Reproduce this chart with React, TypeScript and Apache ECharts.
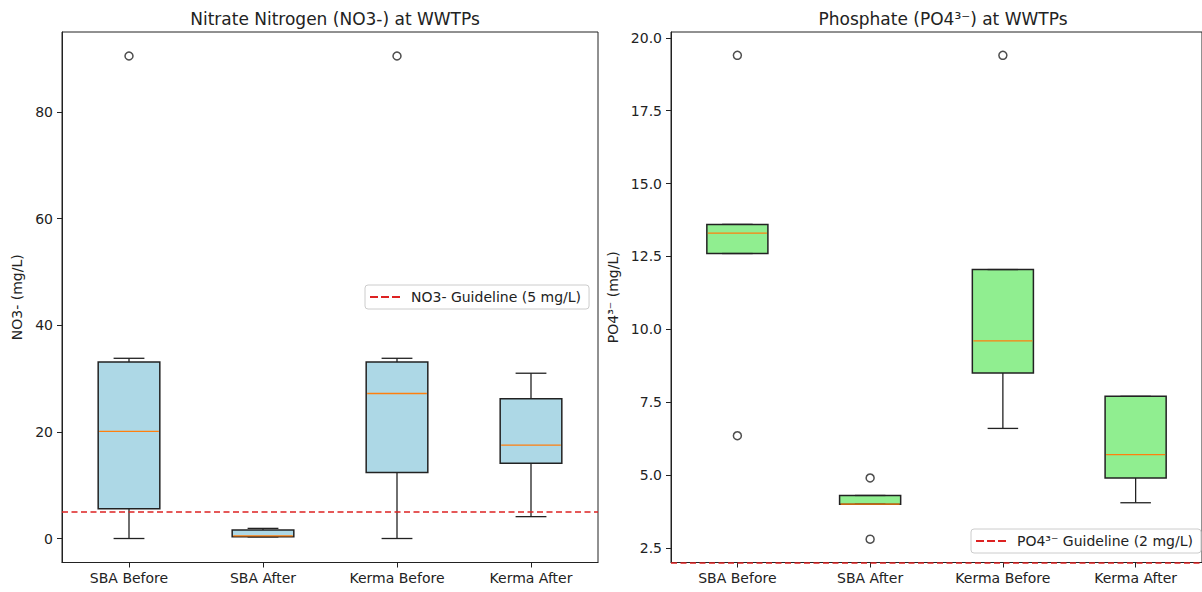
import React, { useEffect, useRef } from "react";
import * as echarts from "echarts";

const categories = ["SBA Before", "SBA After", "Kerma Before", "Kerma After"];

// [whiskerLow, Q1, median, Q3, whiskerHigh]
const no3Stats = [
  [0, 5.6, 20.1, 33.1, 33.8],
  [0.3, 0.35, 0.5, 1.6, 1.9],
  [0, 12.4, 27.2, 33.1, 33.8],
  [4.1, 14.1, 17.5, 26.2, 31.0],
];
const no3Outliers = [
  [0, 90.5],
  [2, 90.5],
];
const no3Guideline = 5;
const no3Ticks = [0, 20, 40, 60, 80];

const po4Stats = [
  [12.6, 12.6, 13.3, 13.6, 13.6],
  [4.0, 4.0, 4.0, 4.3, 4.3],
  [6.6, 8.5, 9.6, 12.05, 12.05],
  [4.05, 4.9, 5.7, 7.7, 7.7],
];
const po4Outliers = [
  [0, 19.4],
  [0, 6.35],
  [1, 4.9],
  [1, 2.8],
  [2, 19.4],
];
const po4Guideline = 2;
const po4Ticks = [2.5, 5.0, 7.5, 10.0, 12.5, 15.0, 17.5, 20.0];

const FONT = "DejaVu Sans";
const TEXT = "#222";
const RED = "#dd2222";
const DASH_ICON = "path://M0,0h8v2h-8zM11,0h8v2h-8zM22,0h8v2h-8z";

function boxRender(fill: string) {
  return (params: any, api: any) => {
    const x = api.value(0);
    const pWl = api.coord([x, api.value(1)]);
    const pQ1 = api.coord([x, api.value(2)]);
    const pMed = api.coord([x, api.value(3)]);
    const pQ3 = api.coord([x, api.value(4)]);
    const pWh = api.coord([x, api.value(5)]);
    const band = api.size([1, 0])[0];
    const bw = band * 0.46;
    const cw = bw / 2;
    const cx = pQ1[0];
    const lineStyle = { stroke: "#222", lineWidth: 1.3 };
    return {
      type: "group",
      children: [
        { type: "line", shape: { x1: cx, y1: pQ3[1], x2: cx, y2: pWh[1] }, style: lineStyle },
        { type: "line", shape: { x1: cx, y1: pQ1[1], x2: cx, y2: pWl[1] }, style: lineStyle },
        {
          type: "rect",
          shape: { x: cx - bw / 2, y: pQ3[1], width: bw, height: pQ1[1] - pQ3[1] },
          style: { fill, stroke: "#222", lineWidth: 1.5 },
        },
        { type: "line", shape: { x1: cx - cw / 2, y1: pWh[1], x2: cx + cw / 2, y2: pWh[1] }, style: lineStyle },
        { type: "line", shape: { x1: cx - cw / 2, y1: pWl[1], x2: cx + cw / 2, y2: pWl[1] }, style: lineStyle },
        {
          type: "line",
          shape: { x1: cx - bw / 2 + 1, y1: pMed[1], x2: cx + bw / 2 - 1, y2: pMed[1] },
          style: { stroke: "#ff7f0e", lineWidth: 1.3 },
        },
      ],
    };
  };
}

export default function App() {
  const ref = useRef<HTMLDivElement>(null);
  useEffect(() => {
    if (!ref.current) return;
    const chart = echarts.init(ref.current, null, { renderer: "svg" });
    const no3Name = "NO3- Guideline (5 mg/L)";
    const po4Name = "PO4³⁻ Guideline (2 mg/L)";
    const axisCommon = {
      axisLine: { show: true, onZero: false, lineStyle: { color: "#222", width: 1 } },
      axisTick: { show: true, length: 5, lineStyle: { color: "#222" } },
      splitLine: { show: false },
    };
    const yLabel = { color: TEXT, fontSize: 14, fontFamily: FONT, margin: 9 };
    const xLabel = { color: TEXT, fontSize: 14, fontFamily: FONT, margin: 8 };
    const titleStyle = { fontFamily: FONT, fontSize: 17, fontWeight: "normal", color: TEXT };
    const legendCommon = {
      itemWidth: 30,
      itemHeight: 12,
      padding: [5, 8, 5, 5],
      borderColor: "#ccc",
      borderWidth: 1,
      borderRadius: 3,
      backgroundColor: "rgba(255,255,255,0.85)",
      textStyle: { color: TEXT, fontSize: 14, fontFamily: FONT, padding: [0, 0, 0, 6] },
    };
    const option: any = {
      animation: false,
      backgroundColor: "#fff",
      title: [
        { text: "Nitrate Nitrogen (NO3-) at WWTPs", left: 330, top: 5, textAlign: "center", textStyle: titleStyle },
        { text: "Phosphate (PO4³⁻) at WWTPs", left: 938, top: 5, textAlign: "center", textStyle: titleStyle },
      ],
      legend: [
        { ...legendCommon, data: [{ name: no3Name, icon: DASH_ICON }], left: 365, top: 285 },
        { ...legendCommon, data: [{ name: po4Name, icon: DASH_ICON }], left: 971, top: 529 },
      ],
      grid: [
        { left: 62, top: 32, width: 536, height: 530.5, show: true, borderColor: "#222", borderWidth: 1, backgroundColor: "transparent" },
        { left: 671, top: 32, width: 536, height: 530.5, show: true, borderColor: "#222", borderWidth: 1, backgroundColor: "transparent" },
      ],
      xAxis: [0, 1].map((g) => ({
        type: "category",
        gridIndex: g,
        data: categories,
        ...axisCommon,
        axisTick: { ...axisCommon.axisTick, alignWithLabel: true },
        axisLabel: xLabel,
      })),
      yAxis: [
        {
          type: "value",
          gridIndex: 0,
          min: -4.5,
          max: 95,
          ...axisCommon,
          axisTick: { ...axisCommon.axisTick, customValues: no3Ticks },
          axisLabel: { ...yLabel, customValues: no3Ticks },
          name: "NO3- (mg/L)",
          nameLocation: "middle",
          nameGap: 38,
          nameRotate: 90,
          nameTextStyle: { color: TEXT, fontSize: 14, fontFamily: FONT },
        },
        {
          type: "value",
          gridIndex: 1,
          min: 2.0,
          max: 20.2,
          ...axisCommon,
          axisTick: { ...axisCommon.axisTick, customValues: po4Ticks },
          axisLabel: { ...yLabel, customValues: po4Ticks, formatter: (v: number) => v.toFixed(1) },
          name: "PO4³⁻ (mg/L)",
          nameLocation: "middle",
          nameGap: 51,
          nameRotate: 90,
          nameTextStyle: { color: TEXT, fontSize: 14, fontFamily: FONT },
        },
      ],
      series: [
        {
          type: "custom",
          name: "no3box",
          xAxisIndex: 0,
          yAxisIndex: 0,
          renderItem: boxRender("#ADD8E6"),
          encode: { x: 0, y: [1, 2, 3, 4, 5] },
          data: no3Stats.map((s, i) => [i, ...s]),
          z: 2,
        },
        {
          type: "scatter",
          name: "no3out",
          xAxisIndex: 0,
          yAxisIndex: 0,
          symbol: "circle",
          symbolSize: 8,
          itemStyle: { color: "#fff", borderColor: "#222", borderWidth: 1.5 },
          data: no3Outliers,
          z: 3,
        },
        {
          type: "line",
          name: no3Name,
          xAxisIndex: 0,
          yAxisIndex: 0,
          data: [],
          color: RED,
          lineStyle: { color: RED, type: [6, 3.5], width: 1.6 },
          markLine: {
            silent: true,
            symbol: "none",
            label: { show: false },
            lineStyle: { color: RED, type: [6, 3.5], width: 1.6 },
            data: [{ yAxis: no3Guideline }],
          },
          z: 4,
        },
        {
          type: "custom",
          name: "po4box",
          xAxisIndex: 1,
          yAxisIndex: 1,
          renderItem: boxRender("#90EE90"),
          encode: { x: 0, y: [1, 2, 3, 4, 5] },
          data: po4Stats.map((s, i) => [i, ...s]),
          z: 2,
        },
        {
          type: "scatter",
          name: "po4out",
          xAxisIndex: 1,
          yAxisIndex: 1,
          symbol: "circle",
          symbolSize: 8,
          itemStyle: { color: "#fff", borderColor: "#222", borderWidth: 1.5 },
          data: po4Outliers,
          z: 3,
        },
        {
          type: "line",
          name: po4Name,
          xAxisIndex: 1,
          yAxisIndex: 1,
          data: [],
          color: RED,
          lineStyle: { color: RED, type: [6, 3.5], width: 1.6 },
          markLine: {
            silent: true,
            symbol: "none",
            label: { show: false },
            lineStyle: { color: RED, type: [6, 3.5], width: 1.6 },
            data: [{ yAxis: po4Guideline }],
          },
          z: 4,
        },
      ],
    };
    chart.setOption(option);
    return () => chart.dispose();
  }, []);
  return (
    <div
      ref={ref}
      style={{ position: "absolute", left: 0, top: 0, width: 1202, height: 592, overflow: "hidden" }}
    />
  );
}
